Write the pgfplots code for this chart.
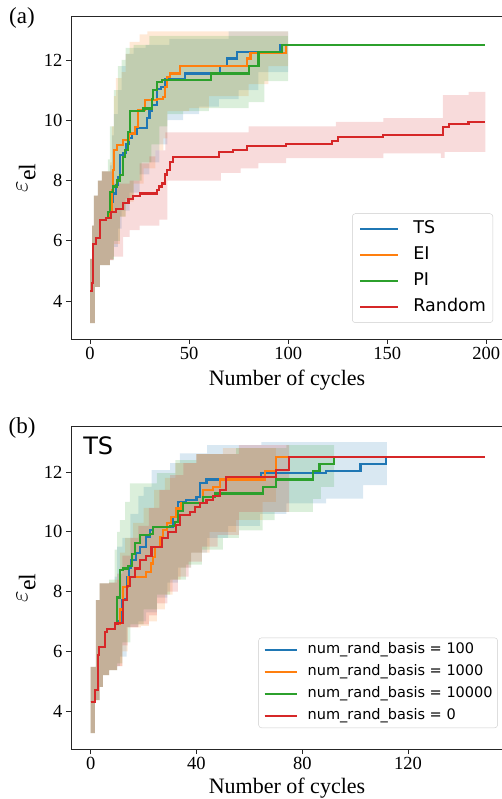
\documentclass[border=0pt]{standalone}
\usepackage{fontspec}
\setmainfont{Liberation Serif}
\newfontfamily\dejavu{DejaVu Sans}
\usepackage{pgfplots}
\pgfplotsset{compat=1.18}
\usepgfplotslibrary{fillbetween}

\definecolor{tabblue}{HTML}{1F77B4}
\definecolor{taborange}{HTML}{FF7F0E}
\definecolor{tabgreen}{HTML}{2CA02C}
\definecolor{tabred}{HTML}{D62728}

\pgfplotsset{
  panel/.style={
    scale only axis, width=432pt, height=323pt,
    axis line style={line width=0.8pt, black!85},
    tick align=outside, xtick pos=bottom, ytick pos=left,
    major tick length=5pt,
    tick style={line width=0.8pt, black!85},
    /pgf/number format/assume math mode=true,
    tick label style={font=\fontsize{18.5}{22}\selectfont},
    label style={font=\fontsize{22}{26}\selectfont},
    ytick={4,6,8,10,12},
    ylabel={$\varepsilon_{\mathrm{el}}$},
    ylabel style={font=\fontsize{34}{40}\selectfont, at={(axis description cs:-0.104,0.5)}, anchor=center},
    xlabel={Number of cycles},
    legend cell align=left,
    legend style={draw=black!20, rounded corners=3pt, fill=white, fill opacity=0.8, text opacity=1},
  },
  bandline/.style={draw=none, forget plot, const plot},
  meanline/.style={const plot, line width=2.1pt},
  bandfill/.style={fill=#1, fill opacity=0.17, draw=none, forget plot},
}

\begin{document}
\begin{tikzpicture}

% ---------------- (a) ----------------
\begin{axis}[panel,
    at={(71pt,-16pt)}, anchor=north west,
    xmin=-9.6, xmax=208.4, ymin=2.74, ymax=13.46,
    xtick={0,50,100,150,200},
    xlabel style={at={(axis description cs:0.5,-0.096)}, anchor=north, inner sep=0pt},
    legend style={at={(0.977,0.05)}, anchor=south east, inner sep=7pt,
      font=\dejavu\fontsize{17.5}{21}\selectfont,
      nodes={text height=13pt, text depth=4pt, inner sep=0pt}, row sep=9pt,
      /tikz/every odd column/.append style={column sep=14pt}},
    legend image code/.code={\draw[#1] (0pt,0pt) -- (38pt,0pt);},
  ]
  % bands
  \addplot[bandline, name path=aTSu] coordinates {(0,5.4)(1,6.5)(2,7.5)(4,8.0)(6,8.3)(10,8.5)(11,9.5)(12,10.2)(14,11.0)(16,11.8)(18,12.2)(22,12.4)(28,12.5)(40,12.7)(70,12.95)(100,12.95)};
  \addplot[bandline, name path=aTSl] coordinates {(0,3.27)(2.5,4.47)(5,5.19)(10,5.36)(12,5.8)(14,6.4)(16,7.0)(20,7.6)(25,8.2)(30,8.6)(35,9.2)(39,10.0)(47,10.2)(55,10.45)(65,10.7)(75,11.0)(85,11.6)(100,11.6)};
  \addplot[bandfill=tabblue] fill between[of=aTSu and aTSl];

  \addplot[bandline, name path=aEIu] coordinates {(0,5.4)(1,6.5)(2,7.5)(4,8.0)(6,8.3)(10,8.6)(11,9.8)(12,10.8)(13,11.4)(16,11.6)(18,12.2)(20,12.6)(25,12.85)(29,12.95)(100,12.95)};
  \addplot[bandline, name path=aEIl] coordinates {(0,3.27)(2.5,4.47)(5,5.19)(10,5.36)(12,5.9)(15,6.8)(18,7.3)(22,7.9)(27,8.4)(33,9.0)(37,9.4)(39,10.3)(50,10.4)(60,10.8)(80,11.2)(90,11.8)(100,11.8)};
  \addplot[bandfill=taborange] fill between[of=aEIu and aEIl];

  \addplot[bandline, name path=aPIu] coordinates {(0,5.4)(1,6.5)(2,7.5)(4,8.0)(6,8.3)(9,8.7)(10,9.8)(12,11.0)(14,11.8)(16,12.0)(18,12.4)(22,12.5)(30,12.8)(100,12.9)};
  \addplot[bandline, name path=aPIl] coordinates {(0,3.27)(2.5,4.47)(5,5.19)(10,5.4)(12,6.0)(15,6.8)(18,7.4)(22,8.0)(26,8.6)(31,9.2)(35,9.8)(39,10.2)(47,10.3)(60,10.4)(80,10.6)(88,11.3)(100,11.3)};
  \addplot[bandfill=tabgreen] fill between[of=aPIu and aPIl];

  \addplot[bandline, name path=aRu] coordinates {(0,5.4)(1,6.5)(2,7.5)(4,8.0)(6,8.3)(10,8.3)(12,7.9)(20,8.0)(25,8.57)(30,8.8)(33,9.0)(38,9.6)(80,9.8)(124,9.95)(148,10.07)(178,10.83)(191,10.94)(199.5,10.94)};
  \addplot[bandline, name path=aRl] coordinates {(0,3.27)(2.5,4.47)(5,5.19)(10,5.36)(11.6,5.47)(16.7,6.13)(20,6.35)(25,6.5)(35,6.7)(39,8.0)(66,8.25)(76,8.4)(85,8.58)(99,8.74)(148,8.9)(177,8.75)(179,8.95)(199.5,8.95)};
  \addplot[bandfill=tabred] fill between[of=aRu and aRl];

  % means
  \addplot[meanline, tabblue] coordinates {(0,4.33)(1,4.6)(1.7,5.9)(3,6.1)(5,6.7)(8,6.75)(10,6.96)(11,7.3)(11.8,7.57)(13,7.85)(14.3,8.12)(15.2,8.84)(16.8,8.9)(18,9.2)(19.5,9.4)(21,9.56)(23.6,9.73)(28.6,10.06)(30,10.3)(31.2,10.5)(33.7,11.05)(36,11.1)(37.9,11.38)(48,11.55)(65.7,11.8)(69,12.05)(74.2,12.27)(96,12.5)(199.5,12.5)};
  \addlegendentry{TS}
  \addplot[meanline, taborange] coordinates {(0,4.33)(1,4.6)(1.7,5.9)(3,6.1)(5,6.7)(8,6.75)(10,6.96)(11,7.68)(11.5,8.34)(12.3,9.0)(13.5,9.17)(16.8,9.34)(19.4,9.56)(22.5,9.78)(24.4,10.33)(27.8,10.67)(33.7,10.72)(37,10.78)(37.9,11.1)(39,11.44)(40.4,11.55)(45.5,11.8)(79,12.05)(81,12.24)(99,12.5)(199.5,12.5)};
  \addlegendentry{EI}
  \addplot[meanline, tabgreen] coordinates {(0,4.33)(1,4.6)(1.7,5.9)(3,6.1)(5,6.7)(8,6.75)(9.2,6.96)(10.1,7.63)(11.8,7.8)(13.5,8.0)(15.2,8.18)(16.8,8.79)(17.7,9.0)(19,9.6)(20.2,10.3)(27,10.39)(31.2,10.72)(32,11.0)(34,11.27)(36.2,11.33)(61,11.55)(80,11.8)(85,12.27)(97,12.5)(199.5,12.5)};
  \addlegendentry{PI}
  \addplot[meanline, tabred] coordinates {(0,4.33)(1,4.6)(1.7,5.9)(3,6.1)(5,6.7)(8,6.75)(10.4,6.96)(13,7.05)(16.5,7.24)(19.4,7.4)(21.5,7.5)(25,7.57)(33.7,7.68)(35,7.8)(36.2,7.9)(38,8.2)(39,8.34)(40.5,8.6)(42,8.79)(65,8.94)(72,9.0)(79,9.14)(99,9.2)(122,9.3)(125,9.43)(148,9.5)(178,9.78)(181,9.87)(191,9.94)(199.5,9.94)};
  \addlegendentry{Random}
\end{axis}

% ---------------- (b) ----------------
\begin{axis}[panel,
    at={(71pt,-426pt)}, anchor=north west,
    xmin=-7.45, xmax=155.9, ymin=2.73, ymax=13.54,
    xtick={0,40,80,120},
    xlabel style={at={(axis description cs:0.5,-0.09)}, anchor=north, inner sep=0pt},
    legend style={at={(0.988,0.065)}, anchor=south east, inner sep=5pt,
      font=\dejavu\fontsize{14.5}{17}\selectfont,
      nodes={text height=11pt, text depth=3pt, inner sep=0pt}, row sep=8pt,
      /tikz/every odd column/.append style={column sep=10pt}},
    legend image code/.code={\draw[#1] (0pt,0pt) -- (32pt,0pt);},
  ]
  \node[anchor=north west, inner sep=0pt, font=\dejavu\fontsize{24}{28}\selectfont] at (rel axis cs:0.028,0.966) {TS};

  % bands
  \addplot[bandline, name path=bAu] coordinates {(0,5.48)(2,7.71)(3.4,8.27)(7,8.3)(9,8.5)(10,9.5)(12,9.8)(15,10.6)(18,11.2)(20,11.5)(23,12.06)(30,12.3)(33.7,12.62)(44,12.9)(64.5,13.0)(112,13.0)};
  \addplot[bandline, name path=bAl] coordinates {(0,3.26)(1.6,4.37)(3.4,4.81)(4.6,5.2)(7,5.37)(10,5.5)(11,5.82)(13.6,6.82)(18,7.0)(21,7.3)(25,7.8)(29,8.3)(33,8.8)(38,9.3)(44,9.8)(52,10.2)(64,10.6)(74,10.95)(89,11.11)(103,11.56)(112,11.56)};
  \addplot[bandfill=tabblue] fill between[of=bAu and bAl];

  \addplot[bandline, name path=bBu] coordinates {(0,5.48)(2,7.71)(3.4,8.27)(7,8.3)(9,8.4)(11,9.3)(13,9.8)(16,10.3)(20,10.8)(24,11.4)(28,11.8)(32,12.3)(40,12.6)(50,12.8)(70,12.8)};
  \addplot[bandline, name path=bBl] coordinates {(0,3.26)(1.6,4.37)(3.4,4.81)(4.6,5.2)(7,5.37)(10,5.5)(12,6.0)(14,6.8)(19,6.85)(22,7.0)(25,7.4)(28,7.9)(31,8.4)(34,8.8)(38,9.3)(45,10.0)(55,10.4)(65,11.0)(70,11.0)};
  \addplot[bandfill=taborange] fill between[of=bBu and bBl];

  \addplot[bandline, name path=bCu] coordinates {(0,5.48)(2,7.71)(3.4,8.27)(7,8.4)(9,9.4)(10,10.0)(11,10.39)(13,11.0)(14.8,11.62)(18,11.62)(25,11.96)(32,12.4)(40,12.6)(55,12.8)(74,12.9)(92,12.9)};
  \addplot[bandline, name path=bCl] coordinates {(0,3.26)(1.6,4.37)(3.4,4.81)(4.6,5.2)(7,5.37)(10,5.6)(12,6.3)(15,6.9)(20,7.4)(25,7.9)(30,8.4)(36,8.9)(42,9.4)(50,9.8)(56,10.05)(65,10.39)(69.5,10.67)(84,11.1)(87,11.5)(92,11.5)};
  \addplot[bandfill=tabgreen] fill between[of=bCu and bCl];

  \addplot[bandline, name path=bDu] coordinates {(0,5.48)(2,7.71)(3.4,8.27)(7,8.3)(10,8.6)(12,9.2)(15,9.8)(18,10.2)(22,10.8)(26,11.4)(30,11.9)(35,12.3)(40,12.6)(56,12.9)(75,12.9)};
  \addplot[bandline, name path=bDl] coordinates {(0,3.26)(1.6,4.37)(3.4,4.81)(4.6,5.2)(7,5.37)(10,5.5)(12,6.2)(14,6.8)(18,6.9)(22,7.2)(25,7.6)(29,8.0)(33,8.5)(37,9.0)(42,9.5)(48,9.9)(56,10.67)(75,10.67)};
  \addplot[bandfill=tabred] fill between[of=bDu and bDl];

  % means
  \addplot[meanline, tabblue] coordinates {(0,4.31)(1.6,4.7)(2.7,5.87)(3.2,6.13)(5.4,6.65)(6.3,6.74)(9.2,6.93)(10.4,7.0)(11.7,7.71)(13,7.75)(13.6,8.5)(14.5,8.8)(15.3,9.05)(17,9.3)(18.6,9.5)(21,9.83)(22.4,10.05)(23.6,10.16)(31.2,10.5)(33,11.0)(36.2,11.05)(40,11.17)(41.2,11.62)(43.8,11.75)(64.5,11.97)(89,12.04)(102,12.26)(111.5,12.49)(149,12.49)};
  \addlegendentry{num\_rand\_basis = 100}
  \addplot[meanline, taborange] coordinates {(0,4.31)(1.6,4.7)(2.7,5.87)(3.2,6.13)(5.4,6.65)(6.3,6.74)(9.2,6.93)(11,7.4)(12.3,8.16)(14.2,8.49)(21,8.66)(22.9,8.94)(23.5,9.16)(24.3,9.5)(26.2,9.83)(27.4,10.05)(28.7,10.28)(30.5,10.5)(32.4,10.78)(34.3,10.95)(42.5,11.39)(46.3,11.5)(48.8,11.75)(65.8,12.03)(70,12.49)(149,12.49)};
  \addlegendentry{num\_rand\_basis = 1000}
  \addplot[meanline, tabgreen] coordinates {(0,4.31)(1.6,4.7)(2.7,5.87)(3.2,6.13)(5.4,6.65)(6.3,6.74)(9.2,6.93)(10,7.8)(11,8.72)(12.3,8.77)(14.2,8.85)(15.5,9.27)(16.7,9.61)(18.6,9.89)(22.4,9.94)(23.6,10.16)(30,10.2)(31.8,10.33)(33,10.7)(35,10.95)(42.5,11.17)(46.9,11.28)(65,11.5)(70,11.75)(84,12.03)(86.5,12.26)(92,12.49)(149,12.49)};
  \addlegendentry{num\_rand\_basis = 10000}
  \addplot[meanline, tabred] coordinates {(0,4.31)(1.6,4.7)(2.7,5.87)(3.2,6.13)(5.4,6.65)(6.3,6.74)(9.2,6.93)(10.4,6.95)(12.3,7.71)(13.6,8.2)(15,8.5)(16.7,8.77)(18.6,9.05)(21,9.2)(23,9.5)(26.8,9.78)(29.3,10.0)(32.4,10.22)(33.7,10.56)(37.5,10.67)(39.4,10.84)(41.2,10.95)(43.8,11.06)(46.3,11.2)(48.8,11.39)(51.3,11.82)(70,12.06)(75,12.49)(149,12.49)};
  \addlegendentry{num\_rand\_basis = 0}
\end{axis}

\node[font=\fontsize{23}{27}\selectfont] at (22pt,-18pt) {(a)};
\node[font=\fontsize{23}{27}\selectfont] at (22pt,-428pt) {(b)};

\pgfresetboundingbox
\useasboundingbox (0,0) rectangle (502pt,-799pt);
\end{tikzpicture}
\end{document}
